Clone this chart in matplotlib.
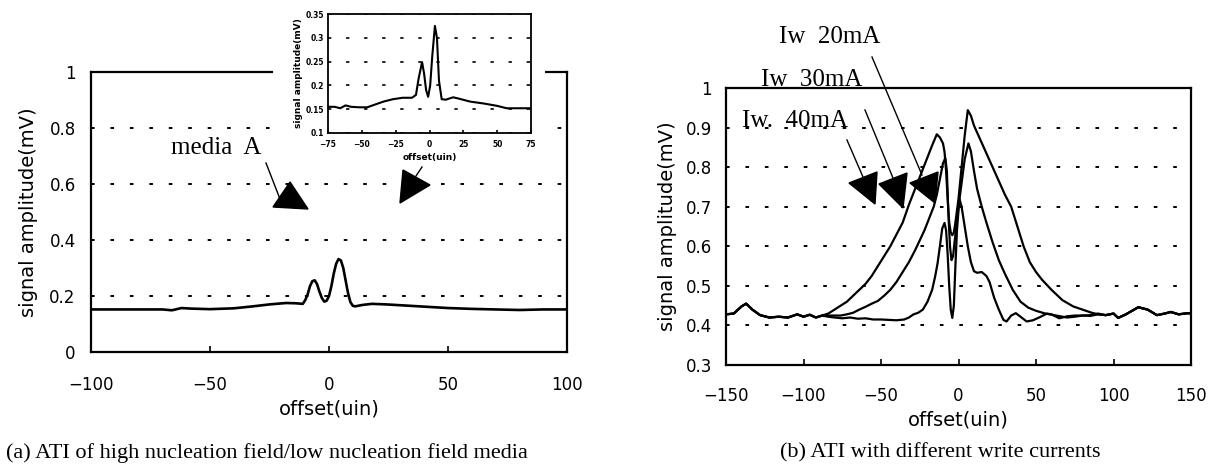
import numpy as np
import matplotlib.pyplot as plt
from matplotlib.patches import Polygon, Rectangle
from matplotlib.lines import Line2D
from matplotlib.transforms import Affine2D

plt.rcParams['font.family'] = 'DejaVu Sans'
plt.rcParams['lines.scale_dashes'] = False

W, H = 1215, 470

# ---- (a) high / low nucleation field media ----
a_x = [-100, -90, -80, -70, -66, -62, -58, -50, -40, -32, -25, -18, -14, -11,
       -10, -9, -8, -7, -6, -5, -4, -3, -2, -1, 0, 1, 2, 3, 4, 5, 6, 7, 8, 9,
       10, 11, 14, 18, 24, 32, 40, 50, 60, 70, 80, 90, 100]
a_y = [0.152, 0.152, 0.152, 0.152, 0.149, 0.157, 0.155, 0.153, 0.156, 0.163,
       0.170, 0.175, 0.174, 0.172, 0.185, 0.205, 0.235, 0.253, 0.256, 0.242,
       0.215, 0.193, 0.18, 0.183, 0.20, 0.235, 0.28, 0.315, 0.332, 0.327, 0.30,
       0.255, 0.21, 0.178, 0.165, 0.163, 0.168, 0.172, 0.170, 0.166, 0.162,
       0.157, 0.154, 0.152, 0.150, 0.152, 0.152]
a_yticks = [0, 0.2, 0.4, 0.6, 0.8, 1]
a_yticklabels = ['0', '0.2', '0.4', '0.6', '0.8', '1']
a_xticks = [-100, -50, 0, 50, 100]

# inset (zoom of media A)
in_x = [-75, -70, -66, -62, -58, -52, -46, -40, -34, -27, -20, -13, -10, -8,
        -5.5, -4, -2.5, -1, 0.5, 2, 4, 5.5, 7, 9, 12, 17.5, 22, 30, 40, 50,
        57, 65, 75]
in_y = [0.155, 0.155, 0.152, 0.158, 0.155, 0.154, 0.154, 0.160, 0.166, 0.171,
        0.174, 0.174, 0.18, 0.215, 0.249, 0.225, 0.19, 0.176, 0.20, 0.26, 0.325,
        0.30, 0.21, 0.171, 0.170, 0.175, 0.172, 0.166, 0.162, 0.157, 0.152,
        0.152, 0.152]
in_yticks = [0.1, 0.15, 0.2, 0.25, 0.3, 0.35]
in_yticklabels = ['0.1', '0.15', '0.2', '0.25', '0.3', '0.35']
in_xticks = [-75, -50, -25, 0, 25, 50, 75]

# ---- (b) different write currents ----
tail_l_x = [-150, -145, -140, -137, -133, -128, -122, -116, -110, -104, -100, -96, -92, -88]
tail_l_y = [0.428, 0.43, 0.448, 0.455, 0.44, 0.426, 0.42, 0.422, 0.42, 0.428,
            0.422, 0.427, 0.42, 0.425]
tail_r_x = [95, 100, 103, 108, 116, 122, 128, 133, 137, 142, 148, 150]
tail_r_y = [0.426, 0.43, 0.419, 0.428, 0.446, 0.44, 0.426, 0.43, 0.434, 0.428, 0.431, 0.43]

# Iw 40mA (widest)
w40_x = [-84, -80, -76, -72, -68, -64, -60, -56, -52, -48, -44, -40, -36, -32,
         -28, -24, -20, -17, -14, -12, -10, -9, -8, -7, -6, -5, -4, -3, -2, 0,
         2, 4, 6, 8, 10, 14, 18, 22, 26, 30, 34, 38, 42, 46, 50, 54, 60, 67, 74,
         80, 86, 90]
w40_y = [0.43, 0.44, 0.45, 0.46, 0.475, 0.49, 0.505, 0.525, 0.55, 0.575, 0.60,
         0.63, 0.66, 0.705, 0.745, 0.785, 0.825, 0.855, 0.883, 0.875, 0.86, 0.838,
         0.79, 0.72, 0.66, 0.635, 0.628, 0.635, 0.66, 0.72, 0.80, 0.88, 0.944,
         0.93, 0.905, 0.87, 0.835, 0.80, 0.765, 0.73, 0.70, 0.65, 0.60, 0.56,
         0.535, 0.515, 0.49, 0.464, 0.448, 0.44, 0.432, 0.428]
# Iw 30mA
w30_x = [-84, -80, -76, -72, -68, -64, -60, -56, -52, -48, -44, -40, -36, -32,
         -28, -25, -22, -19, -16, -14, -12, -10, -8.5, -7.5, -6.5, -5.5, -4.5,
         -3.5, -2, 0, 2, 4, 6.4, 8, 10, 12, 15, 18, 22, 26, 30, 35, 40, 45, 50,
         56, 63, 70, 75, 80, 85, 90]
w30_y = [0.425, 0.425, 0.425, 0.428, 0.432, 0.44, 0.447, 0.455, 0.462, 0.475,
         0.49, 0.51, 0.535, 0.56, 0.59, 0.615, 0.64, 0.67, 0.70, 0.73, 0.77, 0.81,
         0.823, 0.79, 0.68, 0.60, 0.565, 0.575, 0.63, 0.70, 0.76, 0.82, 0.86,
         0.84, 0.79, 0.745, 0.70, 0.66, 0.61, 0.565, 0.53, 0.49, 0.46, 0.445,
         0.437, 0.43, 0.425, 0.42, 0.422, 0.425, 0.426, 0.43]
# Iw 20mA (narrowest)
w20_x = [-84, -80, -75, -70, -65, -60, -55, -50, -45, -40, -35, -32, -29, -26,
         -23, -20, -17, -15, -13.5, -12, -10.5, -9, -8, -7, -6, -5, -4, -3, -2,
         -1, 0.6, 2, 4, 6, 8, 10, 12, 15, 18, 20, 23, 26, 29, 31, 34, 37, 40, 44,
         48, 52, 57, 60, 65, 70, 75, 80, 85, 90]
w20_y = [0.422, 0.42, 0.418, 0.42, 0.417, 0.418, 0.415, 0.415, 0.414, 0.413,
         0.415, 0.42, 0.428, 0.432, 0.44, 0.46, 0.49, 0.525, 0.557, 0.60, 0.645,
         0.659, 0.64, 0.58, 0.50, 0.44, 0.419, 0.45, 0.55, 0.64, 0.72, 0.70,
         0.65, 0.60, 0.56, 0.537, 0.533, 0.535, 0.525, 0.51, 0.47, 0.44, 0.414,
         0.41, 0.425, 0.431, 0.422, 0.41, 0.413, 0.42, 0.43, 0.428, 0.418, 0.423,
         0.425, 0.425, 0.424, 0.428]
b_yticks = [0.3, 0.4, 0.5, 0.6, 0.7, 0.8, 0.9, 1]
b_yticklabels = ['0.3', '0.4', '0.5', '0.6', '0.7', '0.8', '0.9', '1']
b_xticks = [-150, -100, -50, 0, 50, 100, 150]

fig = plt.figure(figsize=(12.15, 4.70), dpi=100)
# pixel coordinates (origin top-left) for the hand-drawn annotations
px = Affine2D().scale(1 / W, -1 / H).translate(0, 1) + fig.transFigure

dash = (0, (2.6, 11.4))
tick_font = 12
label_font = 14

def style_axes(ax, lw=1.6):
    for s in ax.spines.values():
        s.set_linewidth(lw)
        s.set_color('black')
    ax.tick_params(axis='x', direction='in', length=4, width=1.2)
    ax.tick_params(axis='y', length=0)

# ---- left panel ----
ax1 = fig.add_axes([91 / W, 1 - 352 / H, 476 / W, 280 / H])
ax1.plot(a_x, a_y, color='black', lw=1.9)
ax1.set_xlim(-100, 100)
ax1.set_ylim(0, 1)
ax1.set_xticks(a_xticks)
ax1.set_yticks(a_yticks)
ax1.set_yticklabels(a_yticklabels)
ax1.yaxis.grid(True, linestyle=dash, color='black', lw=1.4)
style_axes(ax1)
ax1.tick_params(axis='y', labelsize=tick_font, pad=11)
ax1.tick_params(axis='x', labelsize=tick_font, pad=17)
ax1.set_xlabel('offset(uin)', fontsize=label_font, labelpad=4)
ax1.set_ylabel('signal amplitude(mV)', fontsize=label_font, labelpad=8)

# white block behind the inset hides part of the top border
fig.add_artist(Rectangle((273, 0), 272, 168, transform=px,
                         facecolor='white', edgecolor='none', zorder=2))

# ---- inset ----
axin = fig.add_axes([328 / W, 1 - 133 / H, 203 / W, 119 / H], zorder=3)
axin.plot(in_x, in_y, color='black', lw=1.5)
axin.set_xlim(-75, 75)
axin.set_ylim(0.1, 0.35)
axin.set_xticks(in_xticks)
axin.set_yticks(in_yticks)
axin.set_yticklabels(in_yticklabels)
axin.yaxis.grid(True, linestyle=(0, (2.4, 10.6)), color='black', lw=1.2)
style_axes(axin, lw=1.3)
axin.tick_params(axis='x', length=2, labelsize=5.5, pad=5)
axin.tick_params(axis='y', labelsize=5.5, pad=3)
for t in axin.get_xticklabels() + axin.get_yticklabels():
    t.set_fontweight('bold')
axin.set_xlabel('offset(uin)', fontsize=6.5, fontweight='bold', labelpad=3)
axin.set_ylabel('signal amplitude(mV)', fontsize=6.5, fontweight='bold', labelpad=2)

# ---- right panel ----
ax2 = fig.add_axes([726 / W, 1 - 365 / H, 465 / W, 277 / H])
for cx, cy in [(w40_x, w40_y), (w30_x, w30_y), (w20_x, w20_y)]:
    ax2.plot(tail_l_x + cx + tail_r_x, tail_l_y + cy + tail_r_y,
             color='black', lw=1.6)
ax2.set_xlim(-150, 150)
ax2.set_ylim(0.3, 1)
ax2.set_xticks(b_xticks)
ax2.set_yticks(b_yticks)
ax2.set_yticklabels(b_yticklabels)
ax2.yaxis.grid(True, linestyle=dash, color='black', lw=1.4)
style_axes(ax2)
ax2.tick_params(axis='y', labelsize=tick_font, pad=10)
ax2.tick_params(axis='x', labelsize=tick_font, pad=16)
ax2.set_xlabel('offset(uin)', fontsize=label_font, labelpad=4)
ax2.set_ylabel('signal amplitude(mV)', fontsize=label_font, labelpad=6)

# ---- annotations ----
serif = 'Liberation Serif'
fig.text(216, 148, 'media  A', transform=px, family=serif, fontsize=18,
         ha='center', va='center', zorder=6)
fig.text(830, 37, 'Iw  20mA', transform=px, family=serif, fontsize=18,
         ha='center', va='center', zorder=6)
fig.text(812, 80, 'Iw  30mA', transform=px, family=serif, fontsize=18,
         ha='center', va='center', zorder=6)
fig.text(795, 121, 'Iw.  40mA', transform=px, family=serif, fontsize=18,
         ha='center', va='center', zorder=6)

leaders = [((266, 280), (163, 199)), ((422, 416), (167, 176)),
           ((872, 922), (57, 175)), ((865, 893), (110, 178)),
           ((847, 863), (140, 177))]
for xs, ys in leaders:
    fig.add_artist(Line2D(xs, ys, transform=px, color='black', lw=1.0, zorder=6))

heads = [[(290, 182), (273, 207), (308, 209)],
         [(403, 170), (430, 185), (400, 203)],
         [(849, 183), (877, 172), (875, 204)],
         [(879, 184), (907, 173), (903, 208)],
         [(910, 183), (938, 172), (935, 203)]]
for tri in heads:
    fig.add_artist(Polygon(tri, closed=True, transform=px, facecolor='black',
                           edgecolor='black', zorder=6))

fig.text(267, 453, '(a) ATI of high nucleation field/low nucleation field media',
         transform=px, family=serif, fontsize=16, ha='center', va='center')
fig.text(940, 453, '(b) ATI with different write currents',
         transform=px, family=serif, fontsize=16, ha='center', va='center')

fig.savefig('out.png', dpi=100)
